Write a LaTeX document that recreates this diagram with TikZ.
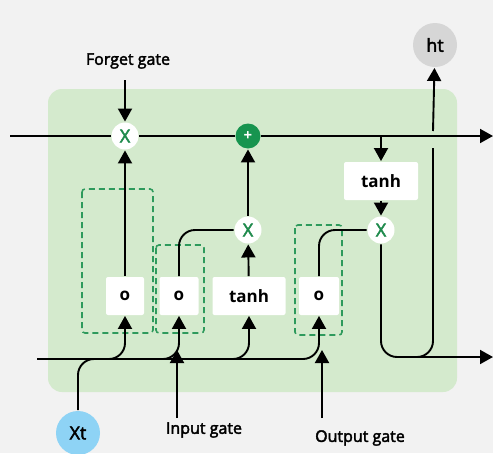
\documentclass[tikz,border=0pt]{standalone}
\usepackage{fontspec}
\setmainfont{Open Sans}
\newfontfamily\labfont{Open Sans}[FakeBold=2.5]
\usetikzlibrary{arrows.meta}
\definecolor{bgc}{HTML}{F2F2F2}
\definecolor{panelc}{HTML}{D4EACD}
\definecolor{dashc}{HTML}{2E9A5C}
\definecolor{xgreen}{HTML}{1E8A4C}
\definecolor{plusc}{HTML}{17944F}
\definecolor{xtc}{HTML}{8ED3F5}
\definecolor{htc}{HTML}{D6D6D6}
\begin{document}
\begin{tikzpicture}[x=1pt,y=-1pt, line width=1.9pt,
  >={Triangle[width=14pt,length=13pt]},
  gbox/.style={fill=white, rounded corners=2pt, minimum height=38pt, inner sep=0pt, font=\fontsize{17}{17}\selectfont\bfseries},
  mulc/.style={circle, fill=white, minimum size=27pt, inner sep=0pt, text=xgreen, font=\fontsize{18}{18}\selectfont\labfont},
  dbox/.style={draw=dashc, dash pattern=on 6pt off 4pt, line width=1.6pt, rounded corners=3pt},
  glabel/.style={font=\fontsize{16}{16}\selectfont\labfont},
  curved/.style={rounded corners=16pt}]
\useasboundingbox (0,0) rectangle (493,453);
\fill[bgc] (0,0) rectangle (493,453);
\fill[panelc, rounded corners=14pt] (48,89) rectangle (457,392);
% dashed boxes
\draw[dbox] (82,189) rectangle (153,333);
\draw[dbox] (156,245) rectangle (204,333);
\draw[dbox] (295,225) rectangle (342,335);
% nodes
\node[mulc] (fx) at (125,136) {X};
\node[circle, fill=plusc, minimum size=25pt, inner sep=0pt, text=white, font=\fontsize{15}{15}\selectfont\bfseries] (plus) at (248,136) {+};
\node[mulc] (ix) at (248,230) {X};
\node[mulc] (ox) at (381,230) {X};
\node[gbox, minimum width=38pt] (o1) at (125,296) {o};
\node[gbox, minimum width=39pt] (o2) at (179,296) {o};
\node[gbox, minimum width=73pt] (t1) at (249,296) {tanh};
\node[gbox, minimum width=40pt] (o3) at (319,296) {o};
\node[gbox, minimum width=74pt] (t2) at (381,181) {tanh};
\node[circle, fill=xtc, minimum size=44pt, inner sep=0pt, font=\fontsize{18}{18}\selectfont\labfont] (xt) at (78,433) {Xt};
\node[circle, fill=htc, minimum size=44pt, inner sep=0pt, font=\fontsize{18}{18}\selectfont\labfont] (ht) at (435,45) {ht};
\node[glabel] (forget) at (128,61) {Forget gate};
\node[glabel] (input) at (204,430) {Input gate};
\node[glabel] (output) at (360,438) {Output gate};
% coordinates
\coordinate (cin) at (10,136);
\coordinate (cout) at (493,136);
\coordinate (lin) at (37,359);
\coordinate (b1) at (90,359);
\coordinate (b2) at (140,359);
\coordinate (b3) at (210,359);
\coordinate (xtj) at (120,359);
\coordinate (igs) at (177,418);
\coordinate (igt) at (177,350);
\coordinate (ogs) at (322,418);
\coordinate (ogt) at (322,350);
\coordinate (fgs) at (125,80);
\coordinate (tj) at (381,136);
\coordinate (hout) at (493,357);
\coordinate (hj) at (395,357);
\coordinate (hb) at (433,148);
\coordinate (ha) at (433,131);
% cell state
\draw (cin) -- (fx) -- (plus);
\draw[->] (plus) -- (cout);
\draw[->] (fgs) -- (fx);
\draw[->] (o1) -- (fx);
\draw[->] (t1) -- (ix);
\draw[->] (ix) -- (plus);
\draw[curved] (o2.north) |- (ix.west);
\draw[curved] (o3.north) |- (ox.west);
% input line
\draw[->, curved] (lin) -| (o3.south);
\draw[->, curved] (b1) -| (o1.south);
\draw[->, curved] (b2) -| (o2.south);
\draw[->, curved] (b3) -| (t1.south);
\draw[curved] (xt.north) |- (xtj);
\draw[->] (igs) -- (igt);
\draw[->] (ogs) -- (ogt);
% output part
\draw[->] (tj) -- (t2.north);
\draw[->] (t2) -- (ox);
\draw[->, curved] (ox.south) |- (hout);
\draw[curved] (hj) -| (hb);
\draw[->] (ha) -- (ht);
\end{tikzpicture}
\end{document}
